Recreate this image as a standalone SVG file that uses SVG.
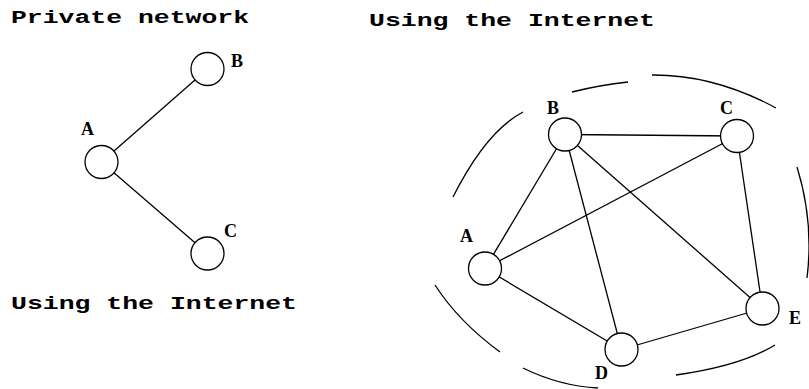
<svg xmlns="http://www.w3.org/2000/svg" width="809" height="389" viewBox="0 0 809 389">
<style>
.node{fill:#fff;stroke:#000;stroke-width:1.3}
.edge{stroke:#000;stroke-width:1.3;fill:none}
.arc{stroke:#000;stroke-width:1.3;fill:none}
.title{font-family:"Liberation Mono","Courier New",monospace;font-weight:bold;font-size:19px;fill:#000}
.lbl{font-family:"Liberation Serif","Times New Roman",serif;font-weight:bold;font-size:18px;fill:#000}
</style>
<rect width="809" height="389" fill="#fff"/>
<text class="title" x="11" y="23" textLength="238" lengthAdjust="spacingAndGlyphs">Private network</text>
<text class="title" x="11" y="309" textLength="286" lengthAdjust="spacingAndGlyphs">Using the Internet</text>
<text class="title" x="369" y="26" textLength="286" lengthAdjust="spacingAndGlyphs">Using the Internet</text>
<g id="connectors">
<line class="edge" x1="101.5" y1="162" x2="207.5" y2="69"/>
<line class="edge" x1="101.5" y1="162" x2="207.5" y2="253.5"/>
<line class="edge" x1="485" y1="268.5" x2="565" y2="134.5"/>
<line class="edge" x1="485" y1="268.5" x2="737" y2="136"/>
<line class="edge" x1="485" y1="268.5" x2="621.5" y2="349.5"/>
<line class="edge" x1="565" y1="134.5" x2="737" y2="136"/>
<line class="edge" x1="565" y1="134.5" x2="621.5" y2="349.5"/>
<line class="edge" x1="565" y1="134.5" x2="762.5" y2="308.5"/>
<line class="edge" x1="737" y1="136" x2="762.5" y2="308.5"/>
<line class="edge" x1="621.5" y1="349.5" x2="762.5" y2="308.5"/>
</g>
<g id="cloud">
<path class="arc" d="M572,92 Q600,85 628,82"/>
<path class="arc" d="M652,75 Q714,74.5 776,108"/>
<path class="arc" d="M797,167 Q814,221.5 807,278"/>
<path class="arc" d="M775,345 Q740.5,366 676,375"/>
<path class="arc" d="M523,368 Q559.5,386 598,388"/>
<path class="arc" d="M435,285 Q458.5,321.5 500,352"/>
<path class="arc" d="M453,197 Q486,131.5 523,112"/>
</g>
<g id="pA"><circle class="node" cx="101.5" cy="162" r="16.5"/><text class="lbl" x="81" y="135">A</text></g>
<g id="pB"><circle class="node" cx="207.5" cy="69" r="16.5"/><text class="lbl" x="231" y="67">B</text></g>
<g id="pC"><circle class="node" cx="207.5" cy="253.5" r="16.5"/><text class="lbl" x="224" y="237">C</text></g>
<g id="iA"><circle class="node" cx="485" cy="268.5" r="16.5"/><text class="lbl" x="460" y="242">A</text></g>
<g id="iB"><circle class="node" cx="565" cy="134.5" r="16.5"/><text class="lbl" x="547" y="114">B</text></g>
<g id="iC"><circle class="node" cx="737" cy="136" r="16.5"/><text class="lbl" x="720" y="114">C</text></g>
<g id="iD"><circle class="node" cx="621.5" cy="349.5" r="16.5"/><text class="lbl" x="595" y="379">D</text></g>
<g id="iE"><circle class="node" cx="762.5" cy="308.5" r="16.5"/><text class="lbl" x="789" y="324">E</text></g>
</svg>
